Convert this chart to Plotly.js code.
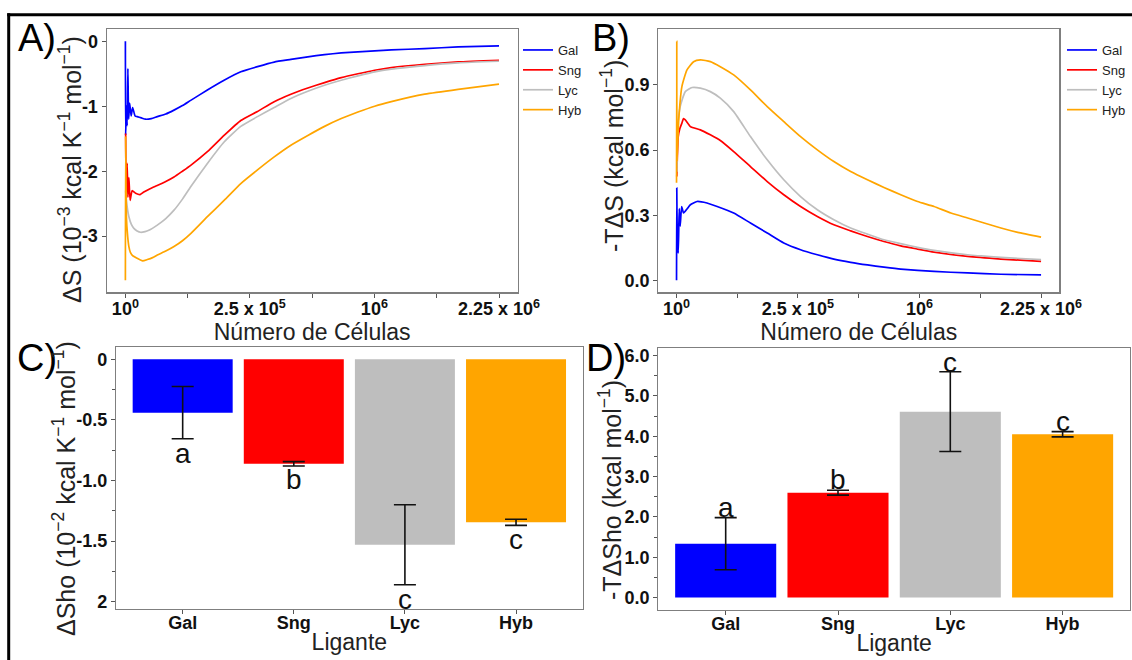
<!DOCTYPE html>
<html>
<head>
<meta charset="utf-8">
<script src="https://cdn.plot.ly/plotly-3.0.1.min.js"></script>
<style>html,body{margin:0;padding:0;background:#fff;}#chart{width:1132px;height:660px;}</style>
</head>
<body>
<div id="chart"></div>
<script>
// ---------- DATA ----------
// x is the square-root of the number of cells (axis labelled 10^0, 2.5x10^5, 10^6, 2.25x10^6)
const seriesNames = ['Gal', 'Sng', 'Lyc', 'Hyb'];
const seriesColors = ['#0000ff', '#ff0000', '#bebebe', '#ffa500'];

// Panel A: ΔS (10^-3 kcal K^-1 mol^-1)
const galA_x = [1, 2, 5, 8, 11, 14, 18, 24, 30, 40, 48, 65, 82, 105, 129, 163, 196, 230, 263, 330, 397, 464, 531, 598, 665, 733, 800, 867, 934, 1001, 1068, 1202, 1336, 1500];
const galA_y = [0, -1.45, -1.0, -1.3, -0.42, -1.2, -0.95, -1.15, -1.02, -1.15, -1.16, -1.18, -1.2, -1.19, -1.16, -1.12, -1.06, -0.99, -0.91, -0.75, -0.6, -0.47, -0.39, -0.32, -0.28, -0.24, -0.205, -0.18, -0.164, -0.149, -0.133, -0.113, -0.087, -0.072];
const sngA_x = [2, 4, 8, 11, 15, 20, 28, 42, 60, 75, 100, 129, 163, 196, 230, 263, 330, 397, 464, 531, 598, 665, 733, 800, 867, 934, 1001, 1068, 1202, 1336, 1500];
const sngA_y = [-1.42, -2.35, -1.88, -2.4, -2.1, -2.45, -2.3, -2.34, -2.36, -2.32, -2.27, -2.22, -2.16, -2.09, -2.0, -1.91, -1.70, -1.45, -1.22, -1.08, -0.93, -0.815, -0.72, -0.636, -0.56, -0.5, -0.446, -0.405, -0.354, -0.318, -0.292];
const lycA_x = [2, 5, 10, 15, 25, 35, 48, 62, 80, 95, 129, 163, 196, 230, 263, 330, 397, 464, 531, 598, 665, 733, 800, 867, 934, 1001, 1068, 1202, 1336, 1500];
const lycA_y = [-2.3, -2.45, -2.6, -2.7, -2.82, -2.88, -2.92, -2.94, -2.93, -2.91, -2.83, -2.73, -2.6, -2.43, -2.24, -1.88, -1.55, -1.31, -1.16, -1.02, -0.88, -0.77, -0.677, -0.6, -0.533, -0.472, -0.43, -0.374, -0.333, -0.308];
const hybA_x = [1, 2, 5, 10, 15, 21, 30, 48, 70, 89, 110, 129, 163, 196, 230, 263, 330, 397, 464, 531, 598, 665, 733, 800, 867, 934, 1001, 1068, 1202, 1336, 1500];
const hybA_y = [-3.68, -1.47, -2.7, -3.0, -3.16, -3.25, -3.3, -3.34, -3.38, -3.36, -3.33, -3.29, -3.23, -3.16, -3.07, -2.96, -2.70, -2.45, -2.19, -1.98, -1.78, -1.6, -1.45, -1.31, -1.19, -1.09, -1.0, -0.93, -0.815, -0.74, -0.66];

// Panel B: -TΔS (kcal mol^-1)
const galB_x = [1, 2, 4, 8, 12, 16, 22, 30, 45, 58, 85, 126, 168, 236, 305, 374, 442, 511, 580, 648, 717, 786, 854, 923, 1060, 1198, 1335, 1500];
const galB_y = [0, 0.425, 0.2, 0.126, 0.33, 0.25, 0.34, 0.31, 0.33, 0.348, 0.363, 0.356, 0.34, 0.31, 0.264, 0.218, 0.172, 0.141, 0.118, 0.098, 0.083, 0.071, 0.061, 0.052, 0.041, 0.034, 0.028, 0.025];
const sngB_x = [2, 8, 15, 23, 30, 37, 58, 99, 140, 181, 236, 305, 374, 442, 511, 580, 648, 717, 786, 854, 923, 992, 1060, 1198, 1335, 1500];
const sngB_y = [0.478, 0.662, 0.7, 0.724, 0.745, 0.739, 0.708, 0.693, 0.67, 0.644, 0.593, 0.524, 0.455, 0.394, 0.34, 0.294, 0.256, 0.228, 0.202, 0.179, 0.159, 0.144, 0.13, 0.11, 0.098, 0.087];
const lycB_x = [3, 5, 16, 37, 65, 99, 140, 181, 236, 305, 374, 442, 511, 580, 648, 717, 786, 854, 923, 992, 1060, 1198, 1335, 1500];
const lycB_y = [0.5, 0.693, 0.80, 0.869, 0.888, 0.885, 0.869, 0.839, 0.777, 0.662, 0.555, 0.463, 0.386, 0.325, 0.279, 0.241, 0.213, 0.187, 0.169, 0.152, 0.138, 0.118, 0.106, 0.095];
const hybB_x = [1, 2, 3, 10, 23, 44, 71, 99, 140, 181, 236, 305, 374, 442, 511, 580, 648, 717, 786, 854, 923, 992, 1060, 1129, 1198, 1266, 1335, 1404, 1500];
const hybB_y = [0.45, 1.10, 0.55, 0.739, 0.892, 0.969, 1.007, 1.015, 1.007, 0.984, 0.946, 0.877, 0.80, 0.731, 0.662, 0.601, 0.547, 0.501, 0.463, 0.428, 0.394, 0.363, 0.34, 0.31, 0.287, 0.264, 0.241, 0.221, 0.199];

// x tick labels of panels A and B
const cellTickVals = [1, 500, 1000, 1500];
const cellTickText = ['10<sup>0</sup>', '2.5 x 10<sup>5</sup>', '10<sup>6</sup>', '2.25 x 10<sup>6</sup>'];

// Panels C and D
const ligands = ['Gal', 'Sng', 'Lyc', 'Hyb'];
const barColors = ['#0000ff', '#ff0000', '#bebebe', '#ffa500'];
const dShoMean = [-0.44, -0.862, -1.53, -1.345];
const dShoErr = [0.215, 0.018, 0.33, 0.025];
const dShoLetterY = [-0.78, -0.99, -1.98, -1.49];
const dShoTickVals = [0, -0.5, -1.0, -1.5, -2.0];
const dShoTickText = ['0', '-0.5', '-1.0', '-1.5', '2'];
const tdShoMean = [1.337, 2.60, 4.61, 4.05];
const tdShoErr = [0.645, 0.06, 0.99, 0.065];
const tdShoLetterY = [2.23, 2.94, 5.83, 4.36];
const letters = ['a', 'b', 'c', 'c'];

// Titles
const yTitles = [
  'ΔS (10<sup>−3</sup> kcal K<sup>−1</sup> mol<sup>−1</sup>)',
  '-TΔS (kcal mol<sup>−1</sup>)',
  'ΔSho (10<sup>−2</sup> kcal K<sup>−1</sup> mol<sup>−1</sup>)',
  '-TΔSho (kcal mol<sup>−1</sup>)'
];
const xTitleCells = 'Número de Células';
const xTitleLig = 'Ligante';

// ---------- LAYOUT HELPERS ----------
const W = 1132, H = 660;
const FONT = 'Liberation Sans, Arial, Helvetica, sans-serif';
const px = v => v / W;
const py = v => 1 - v / H;

const tickFont = {family: FONT, size: 18, color: '#111', weight: 'bold'};
const titleFont = {family: FONT, size: 23, color: '#222'};
function axisBase(extra) {
  return Object.assign({
    showline: true, mirror: true, linecolor: '#7f7f7f', linewidth: 1.2,
    showgrid: false, zeroline: false,
    ticks: 'outside', ticklen: 4, tickwidth: 1, tickcolor: '#555',
    tickfont: tickFont, fixedrange: true
  }, extra);
}

const traces = [];
const setsA = [[galA_x, galA_y], [sngA_x, sngA_y], [lycA_x, lycA_y], [hybA_x, hybA_y]];
const setsB = [[galB_x, galB_y], [sngB_x, sngB_y], [lycB_x, lycB_y], [hybB_x, hybB_y]];
setsA.forEach((s, i) => traces.push({
  type: 'scatter', mode: 'lines', x: s[0], y: s[1], name: seriesNames[i],
  line: {color: seriesColors[i], width: 1.7, shape: 'spline', smoothing: 0.5}, xaxis: 'x', yaxis: 'y', legend: 'legend'
}));
setsB.forEach((s, i) => traces.push({
  type: 'scatter', mode: 'lines', x: s[0], y: s[1], name: seriesNames[i],
  line: {color: seriesColors[i], width: 1.7, shape: 'spline', smoothing: 0.5}, xaxis: 'x2', yaxis: 'y2', legend: 'legend2'
}));
traces.push({
  type: 'bar', x: ligands, y: dShoMean, width: 0.9, marker: {color: barColors},
  error_y: {type: 'data', array: dShoErr, visible: true, color: '#111', thickness: 1.6, width: 11},
  xaxis: 'x3', yaxis: 'y3', showlegend: false
});
traces.push({
  type: 'bar', x: ligands, y: tdShoMean, width: 0.9, marker: {color: barColors},
  error_y: {type: 'data', array: tdShoErr, visible: true, color: '#111', thickness: 1.6, width: 11},
  xaxis: 'x4', yaxis: 'y4', showlegend: false
});

const annotations = [];
ligands.forEach((l, i) => {
  annotations.push({xref: 'x3', yref: 'y3', x: l, y: dShoLetterY[i], text: letters[i], showarrow: false,
    font: {family: FONT, size: 28, color: '#111'}});
  annotations.push({xref: 'x4', yref: 'y4', x: l, y: tdShoLetterY[i], text: letters[i], showarrow: false,
    font: {family: FONT, size: 28, color: '#111'}});
});
const panelLabels = [['A)', 16, 38], ['B)', 590, 38], ['C)', 15, 358], ['D)', 584, 358]];
panelLabels.forEach(p => annotations.push({
  xref: 'paper', yref: 'paper', x: px(p[1]), y: py(p[2]), xanchor: 'left', yanchor: 'middle',
  text: p[0], showarrow: false, font: {family: FONT, size: 38, color: '#000'}
}));
// rotated y-axis titles
const yTitlePos = [[70, 170], [612, 156], [64, 489], [610, 490]];
yTitles.forEach((t, i) => annotations.push({
  xref: 'paper', yref: 'paper', x: px(yTitlePos[i][0]), y: py(yTitlePos[i][1]),
  xanchor: 'center', yanchor: 'middle', textangle: -90, text: t, showarrow: false,
  font: {family: FONT, size: 25, color: '#222'}
}));

const layout = {
  width: W, height: H,
  margin: {l: 0, r: 0, t: 0, b: 0},
  paper_bgcolor: '#fff', plot_bgcolor: '#fff',
  font: {family: FONT},
  xaxis: axisBase({domain: [px(106.7), px(517.7)], anchor: 'y', range: [-74, 1575],
    tickmode: 'array', tickvals: cellTickVals, ticktext: cellTickText, ticklabelstandoff: -4,
    minor: {tick0: 250, dtick: 500, ticklen: 4, tickcolor: '#555'},
    title: {text: xTitleCells, font: titleFont, standoff: 1}}),
  yaxis: axisBase({domain: [py(292.3), py(29.3)], anchor: 'x', range: [-3.864, 0.184],
    tickmode: 'array', tickvals: [0, -1, -2, -3], ticktext: ['0', '-1', '-2', '-3']}),
  xaxis2: axisBase({domain: [px(658.3), px(1059.3)], anchor: 'y2', range: [-74, 1575],
    tickmode: 'array', tickvals: cellTickVals, ticktext: cellTickText, ticklabelstandoff: -4,
    minor: {tick0: 250, dtick: 500, ticklen: 4, tickcolor: '#555'},
    title: {text: xTitleCells, font: titleFont, standoff: 1}}),
  yaxis2: axisBase({domain: [py(292.3), py(29.3)], anchor: 'x2', range: [-0.055, 1.156],
    tickmode: 'linear', tick0: 0, dtick: 0.3, tickformat: '.1f'}),
  xaxis3: axisBase({domain: [px(116), px(582.7)], anchor: 'y3', range: [-0.6, 3.6], type: 'category',
    ticklabelstandoff: -7,
    title: {text: xTitleLig, font: titleFont, standoff: 2}}),
  yaxis3: axisBase({domain: [py(609), py(347.3)], anchor: 'x3', range: [-2.06, 0.099],
    tickmode: 'array', tickvals: dShoTickVals, ticktext: dShoTickText,
    minor: {tick0: -0.25, dtick: 0.5, ticklen: 3, tickcolor: '#555'}}),
  xaxis4: axisBase({domain: [px(658.3), px(1130)], anchor: 'y4', range: [-0.6, 3.6], type: 'category',
    ticklabelstandoff: -7,
    title: {text: xTitleLig, font: titleFont, standoff: 2}}),
  yaxis4: axisBase({domain: [py(609.7), py(348.3)], anchor: 'x4', range: [-0.30, 6.18],
    tickmode: 'linear', tick0: 0, dtick: 1, tickformat: '.1f',
    minor: {tick0: 0.5, dtick: 1, ticklen: 3, tickcolor: '#555'}}),
  legend: {x: px(518), y: py(35), xanchor: 'left', yanchor: 'top', bgcolor: 'rgba(0,0,0,0)',
    font: {family: FONT, size: 13, color: '#222'}, itemwidth: 30},
  legend2: {x: px(1062), y: py(35), xanchor: 'left', yanchor: 'top', bgcolor: 'rgba(0,0,0,0)',
    font: {family: FONT, size: 13, color: '#222'}, itemwidth: 30},
  annotations: annotations,
  shapes: [
    {type: 'line', xref: 'paper', yref: 'paper', x0: px(7.2), x1: 1, y0: py(14.7), y1: py(14.7), line: {color: '#000', width: 3}},
    {type: 'line', xref: 'paper', yref: 'paper', x0: px(8.7), x1: px(8.7), y0: py(13.2), y1: 0, line: {color: '#000', width: 3}}
  ]
};

Plotly.newPlot('chart', traces, layout, {displayModeBar: false, staticPlot: true});
</script>
</body>
</html>
